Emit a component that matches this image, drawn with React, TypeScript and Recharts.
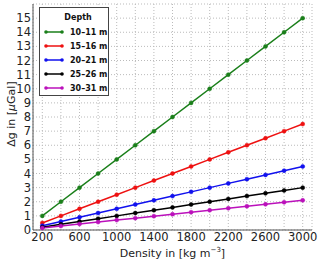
import { LineChart, Line, XAxis, YAxis, CartesianGrid } from "recharts";

const density = [200, 400, 600, 800, 1000, 1200, 1400, 1600, 1800, 2000, 2200, 2400, 2600, 2800, 3000];
const depth10 = [1, 2, 3, 4, 5, 6, 7, 8, 9, 10, 11, 12, 13, 14, 15];
const depth15 = [0.5, 1, 1.5, 2, 2.5, 3, 3.5, 4, 4.5, 5, 5.5, 6, 6.5, 7, 7.5];
const depth20 = [0.3, 0.6, 0.9, 1.2, 1.5, 1.8, 2.1, 2.4, 2.7, 3, 3.3, 3.6, 3.9, 4.2, 4.5];
const depth25 = [0.2, 0.4, 0.6, 0.8, 1, 1.2, 1.4, 1.6, 1.8, 2, 2.2, 2.4, 2.6, 2.8, 3];
const depth30 = [0.14, 0.28, 0.42, 0.56, 0.7, 0.84, 0.98, 1.12, 1.26, 1.4, 1.54, 1.68, 1.82, 1.96, 2.1];

const xTicks = density;
const xLabels = [200, 600, 1000, 1400, 1800, 2200, 2600, 3000];
const yTicks = [0, 1, 2, 3, 4, 5, 6, 7, 8, 9, 10, 11, 12, 13, 14, 15, 16];

const series = [
  { key: "d10", name: "10\u201311 m", color: "#1a7f1a", values: depth10 },
  { key: "d15", name: "15\u201316 m", color: "#ee1111", values: depth15 },
  { key: "d20", name: "20\u201321 m", color: "#1111ee", values: depth20 },
  { key: "d25", name: "25\u201326 m", color: "#000000", values: depth25 },
  { key: "d30", name: "30\u201331 m", color: "#bb11bb", values: depth30 },
];

const data = density.map((d, i) => {
  const row: Record<string, number> = { density: d };
  series.forEach((s) => (row[s.key] = s.values[i]));
  return row;
});

const font = "'DejaVu Sans', sans-serif";

function LegendBox() {
  return (
    <div
      style={{
        position: "absolute",
        left: 39,
        top: 7,
        width: 70,
        height: 89,
        border: "1px solid #444",
        background: "#fff",
        fontFamily: font,
        fontSize: 8,
        fontWeight: "bold",
        color: "#111",
        boxSizing: "border-box",
      }}
    >
      <div style={{ position: "absolute", left: 0, right: 0, top: 5, textAlign: "center", paddingLeft: 8 }}>Depth</div>
      {series.map((s, i) => (
        <div key={s.key} style={{ position: "absolute", left: 3, top: 18 + i * 14, display: "flex", alignItems: "center", height: 12 }}>
          <svg width={27} height={8}>
            <line x1={3} x2={19} y1={4} y2={4} stroke={s.color} strokeWidth={1.5} />
            <circle cx={3} cy={4} r={1.8} fill={s.color} />
            <circle cx={19} cy={4} r={1.8} fill={s.color} />
          </svg>
          <span>{s.name}</span>
        </div>
      ))}
    </div>
  );
}

function YLabel(props: any) {
  const vb = props.viewBox;
  const cx = 11;
  const cy = vb.y + vb.height / 2 - 3;
  return (
    <text
      x={cx}
      y={cy}
      transform={`rotate(-90 ${cx} ${cy})`}
      textAnchor="middle"
      dominantBaseline="central"
      fontFamily={font}
      fontSize={11}
      fill="#222"
    >
      {"\u0394g in ["}
      <tspan fontStyle="italic">{"\u03bc"}</tspan>
      {"Gal]"}
    </text>
  );
}

function XLabel(props: any) {
  const vb = props.viewBox;
  return (
    <text x={vb.x + vb.width / 2} y={257} textAnchor="middle" fontFamily={font} fontSize={11} fill="#222">
      {"Density in [kg m"}
      <tspan fontSize={7} dy={-5}>{"\u22123"}</tspan>
      <tspan dy={5}>{"]"}</tspan>
    </text>
  );
}

export default function App() {
  return (
    <div style={{ position: "absolute", left: 0, top: 0, width: 320, height: 263, background: "#fff" }}>
      <LineChart width={320} height={263} data={data} margin={{ top: 4, right: 8, left: 0, bottom: 0 }}>
        <CartesianGrid stroke="#bbb" strokeDasharray="1 2" />
        <XAxis
          dataKey="density"
          type="number"
          domain={[100, 3100]}
          ticks={xTicks}
          tickFormatter={(v: number) => (xLabels.includes(v) ? String(v) : "")}
          height={33}
          stroke="#555"
          tickLine={false}
          tickSize={0}
          tickMargin={3}
          tick={{ fill: "#222", fontSize: 11.5, fontFamily: font }}
          interval={0}
          label={<XLabel />}
        />
        <XAxis xAxisId="top" orientation="top" dataKey="density" type="number" domain={[100, 3100]} height={0} tick={false} tickLine={false} stroke="#555" />
        <YAxis
          type="number"
          domain={[0, 16]}
          ticks={yTicks}
          tickFormatter={(v: number) => (v <= 15 ? String(v) : "")}
          width={33}
          stroke="#555"
          tickLine={false}
          tickSize={0}
          tickMargin={2}
          tick={{ fill: "#222", fontSize: 11.5, fontFamily: font }}
          interval={0}
          label={<YLabel />}
        />
        <YAxis yAxisId="right" orientation="right" domain={[0, 16]} width={0} tick={false} tickLine={false} stroke="#555" />
        {series.map((s) => (
          <Line
            key={s.key}
            dataKey={s.key}
            name={s.name}
            stroke={s.color}
            strokeWidth={1.5}
            dot={{ r: 2, fill: s.color, stroke: s.color, strokeWidth: 0.5 }}
            isAnimationActive={false}
          />
        ))}
      </LineChart>
      <LegendBox />
    </div>
  );
}
